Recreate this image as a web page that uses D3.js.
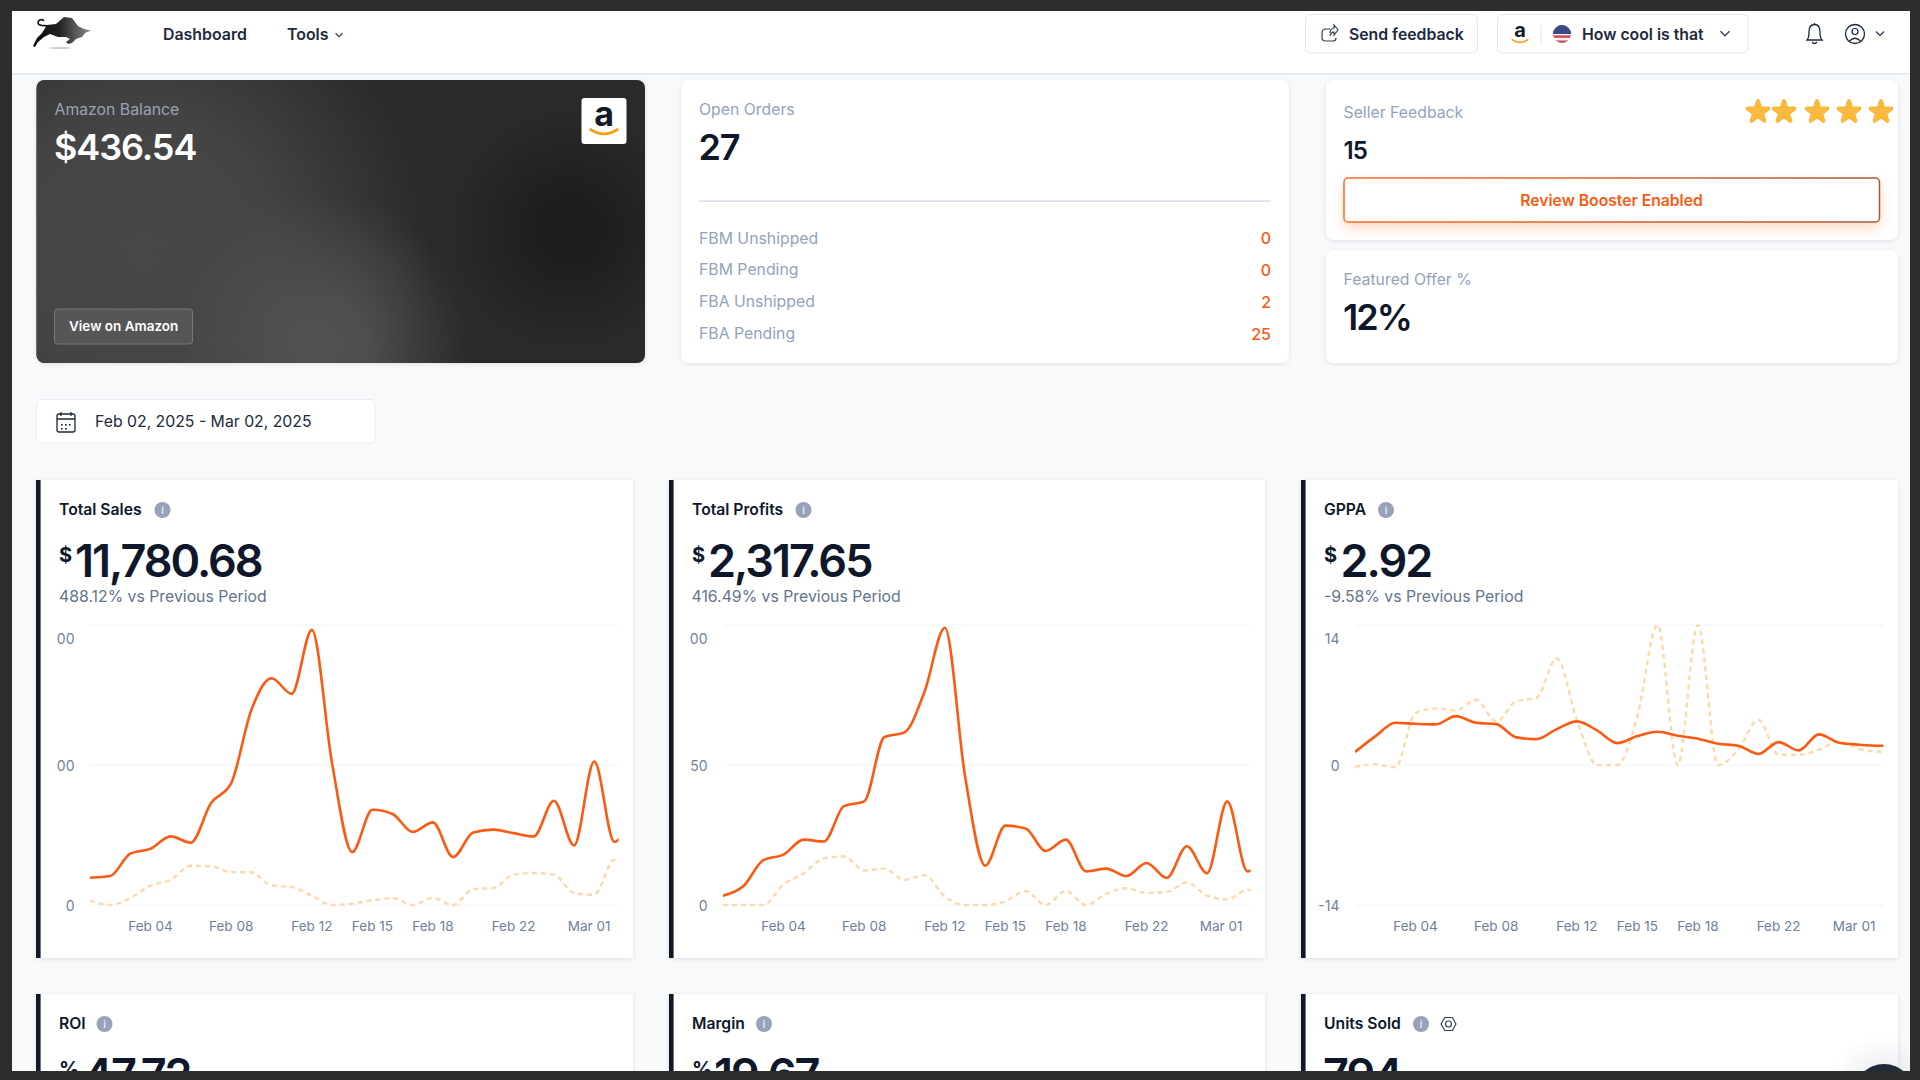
<!DOCTYPE html>
<html>
<head>
<meta charset="utf-8">
<title>Dashboard</title>
<script src="https://cdn.jsdelivr.net/npm/d3@7"></script>
<style>
  html, body { margin: 0; padding: 0; background: #2d2d2d; overflow: hidden; }
  svg { display: block; }
  text { font-family: Inter, "Noto Sans", sans-serif; }
</style>
</head>
<body>
<svg id="page" width="1920" height="1080"></svg>
<script>
// data
const tickIndex = [3, 7, 11, 14, 17, 21, 25];
const tickLabels = ['Feb 04', 'Feb 08', 'Feb 12', 'Feb 15', 'Feb 18', 'Feb 22', 'Mar 01'];

const salesCurrent = [117, 124, 220, 241, 294, 267, 437, 522, 836, 972, 905, 1179, 608, 227, 408, 390, 313, 354, 205, 311, 323, 308, 294, 447, 255, 615, 270, 440];
const salesPrevious = [19, 0, 30, 83, 108, 168, 166, 141, 140, 84, 77, 40, 0, 6, 20, 30, 0, 30, 0, 68, 73, 130, 137, 130, 51, 44, 194, 108];
const salesTicks = [0, 600, 1200];
const salesTickLabels = ['0', '00', '00'];

const profitsCurrent = [10, 20, 48, 54, 70, 68, 106, 111, 180, 185, 229, 297, 138, 42, 85, 82, 58, 70, 36, 39, 31, 45, 29, 63, 34, 111, 36, 57];
const profitsPrevious = [0, 0, 0, 22, 34, 50, 52, 37, 39, 27, 32, 9, 0, 0, 4, 15, 0, 15, 0, 12, 18, 13, 14, 24, 10, 6, 16, 16];
const profitsTicks = [0, 150, 300];
const profitsTickLabels = ['0', '50', '00'];

const gppaCurrent = [1.3, 2.86, 4.22, 4.12, 4.06, 4.89, 4.22, 4.09, 2.76, 2.59, 3.59, 4.36, 3.46, 2.19, 2.89, 3.33, 2.93, 2.63, 2.13, 1.93, 1.1, 2.29, 1.46, 3.06, 2.23, 2.03, 1.93, 1.93];
const gppaPrevious = [-0.2, 0.07, -0.23, 5.19, 5.65, 5.45, 6.52, 4.36, 6.38, 6.72, 10.67, 4.52, 0, 0, 4.86, 14, 0, 14, 0, 1.53, 4.52, 1.03, 1.03, 1.53, 2.36, 1.6, 1.33, 1.33];
const gppaTicks = [-14, 0, 14];
const gppaTickLabels = ['-14', '0', '14'];

const orderLabels = ['FBM Unshipped', 'FBM Pending', 'FBA Unshipped', 'FBA Pending'];
const orderValues = [0, 0, 2, 25];

const ORANGE = '#fb5a12';
const DASHED = '#fdd9a8';
const INK = '#0f172a';
const GREY = '#94a3b8';
const SLATE = '#64748b';

const svg = d3.select('#page');
const defs = svg.append('defs');

function label(parent, x, y, str, size, weight, fill, anchor) {
  return parent.append('text')
    .attr('x', x).attr('y', y - 0.5)
    .attr('dominant-baseline', 'central')
    .attr('text-anchor', anchor || 'start')
    .attr('font-size', size)
    .attr('font-weight', weight)
    .attr('fill', fill)
    .text(str);
}

function box(parent, x, y, w, h, r, fill, stroke) {
  return parent.append('rect')
    .attr('x', x).attr('y', y).attr('width', w).attr('height', h).attr('rx', r)
    .attr('fill', fill).attr('stroke', stroke || 'none');
}

const shadow = defs.append('filter').attr('id', 'shadow')
  .attr('x', '-5%').attr('y', '-5%').attr('width', '110%').attr('height', '112%');
shadow.append('feDropShadow').attr('dx', 0).attr('dy', 1).attr('stdDeviation', 2)
  .attr('flood-color', '#0f172a').attr('flood-opacity', 0.1);

const btnGlow = defs.append('filter').attr('id', 'btnGlow')
  .attr('x', '-5%').attr('y', '-30%').attr('width', '110%').attr('height', '180%');
btnGlow.append('feDropShadow').attr('dx', 0).attr('dy', 6).attr('stdDeviation', 6)
  .attr('flood-color', ORANGE).attr('flood-opacity', 0.22);

const clipScreen = defs.append('clipPath').attr('id', 'clipScreen');
clipScreen.append('rect').attr('x', 12).attr('y', 11).attr('width', 1898).attr('height', 1060);

const screen = svg.append('g').attr('clip-path', 'url(#clipScreen)');
box(screen, 12, 11, 1898, 1060, 0, '#f8f9fb');

// ---- navbar
box(screen, 12, 11, 1898, 62, 0, '#fff');
screen.append('rect').attr('x', 12).attr('y', 73).attr('width', 1898).attr('height', 1.6).attr('fill', '#e2e8f0');

function drawBull(g) {
  const grad = defs.append('linearGradient').attr('id', 'bullGrad');
  grad.append('stop').attr('offset', '0%').attr('stop-color', '#0c0c0c');
  grad.append('stop').attr('offset', '45%').attr('stop-color', '#222');
  grad.append('stop').attr('offset', '100%').attr('stop-color', '#8a8a8a');
  g.append('path')
    .attr('d', 'M33,46 L37,38 L42,33 L47,25 L56,24 L64,17 L72,18 L78,26 L84,29 L91,30.5 L85,33 L82,37 L76,39 L72,43 L68,44 L66,42 L70,39 L66,37 L58,37 L50,34 L44,37 L38,42 L35,47 Z')
    .attr('fill', 'url(#bullGrad)');
  g.append('path')
    .attr('d', 'M48,26 C45,25 39,27 38,23 C38,19 43,19 44,21')
    .attr('fill', 'none').attr('stroke', '#151515').attr('stroke-width', 1.6);
  g.append('ellipse').attr('cx', 60).attr('cy', 48).attr('rx', 11).attr('ry', 1)
    .attr('fill', '#ccc');
}
drawBull(screen);

label(screen, 163, 34.5, 'Dashboard', 15.9, 600, '#1e293b');
label(screen, 287, 34.5, 'Tools', 15.9, 600, '#1e293b');

function chevron(parent, cx, cy, s, color) {
  parent.append('path')
    .attr('d', `M${cx - s},${cy - s / 2} L${cx},${cy + s / 2} L${cx + s},${cy - s / 2}`)
    .attr('fill', 'none').attr('stroke', color || '#334155').attr('stroke-width', 1.3);
}
chevron(screen, 339, 35, 3.4);

box(screen, 1305.5, 14.5, 172, 38.5, 5, '#fff', '#e2e8f0');
screen.append('path')
  .attr('d', 'M1330,29 L1326,29 Q1322,29 1322,33 L1322,38 Q1322,41 1326,41 L1333,41 Q1336,41 1336,38 M1330,33 Q1330,29 1334,28 L1334,25 L1338,30 L1334,35 L1334,32 Q1331,32 1330,36')
  .attr('fill', 'none').attr('stroke', '#334155').attr('stroke-width', 1.2);
label(screen, 1349, 34.5, 'Send feedback', 15.8, 600, '#1e293b');

box(screen, 1497.5, 14.5, 250.5, 38.5, 5, '#fff', '#e2e8f0');

function amazonMark(parent, cx, cy, size) {
  label(parent, cx, cy - size * 0.13, 'a', size, 700, '#131a26', 'middle');
  parent.append('path')
    .attr('d', `M${cx - size * 0.42},${cy + size * 0.32} Q${cx},${cy + size * 0.62} ${cx + size * 0.42},${cy + size * 0.32}`)
    .attr('fill', 'none').attr('stroke', '#f59e0b').attr('stroke-width', size * 0.08);
}
amazonMark(screen, 1520, 33, 20);
screen.append('line').attr('x1', 1541).attr('x2', 1541).attr('y1', 25).attr('y2', 43).attr('stroke', '#e2e8f0').attr('stroke-width', 1.2);

const flagClip = defs.append('clipPath').attr('id', 'flagClip');
flagClip.append('circle').attr('cx', 1562).attr('cy', 34).attr('r', 9);
const flag = screen.append('g').attr('clip-path', 'url(#flagClip)');
d3.range(7).forEach(i => {
  flag.append('rect').attr('x', 1553).attr('y', 25 + i * 18 / 7).attr('width', 18).attr('height', 18 / 7 + 0.2)
    .attr('fill', i % 2 ? '#f3f4f6' : '#d6475a');
});
flag.append('rect').attr('x', 1553).attr('y', 25).attr('width', 18).attr('height', 9).attr('fill', '#3a4a86');

label(screen, 1582, 34.5, 'How cool is that', 15.8, 600, '#1e293b');
chevron(screen, 1725, 33.5, 4.5);

// bell + user
screen.append('path')
  .attr('d', 'M1807,40 Q1809,38 1809,32 Q1809,24.5 1814.5,24.5 Q1820,24.5 1820,32 Q1820,38 1822,40 Z M1812,42 Q1814.5,45 1817,42 M1814.5,24.5 L1814.5,23')
  .attr('fill', 'none').attr('stroke', '#1e293b').attr('stroke-width', 1.3);
screen.append('circle').attr('cx', 1855).attr('cy', 34).attr('r', 9.5).attr('fill', 'none').attr('stroke', '#1e293b').attr('stroke-width', 1.3);
screen.append('circle').attr('cx', 1855).attr('cy', 31.5).attr('r', 3).attr('fill', 'none').attr('stroke', '#1e293b').attr('stroke-width', 1.2);
screen.append('path').attr('d', 'M1849.5,41 Q1855,35.5 1860.5,41').attr('fill', 'none').attr('stroke', '#1e293b').attr('stroke-width', 1.2);
chevron(screen, 1880, 33.5, 4);

// ---- balance card
function softBlob(id, cx, cy, r, color, hold) {
  const grad = defs.append('radialGradient').attr('id', id)
    .attr('gradientUnits', 'userSpaceOnUse').attr('cx', cx).attr('cy', cy).attr('r', r);
  grad.append('stop').attr('offset', '0%').attr('stop-color', color).attr('stop-opacity', 1);
  grad.append('stop').attr('offset', `${hold}%`).attr('stop-color', color).attr('stop-opacity', 0.9);
  grad.append('stop').attr('offset', '100%').attr('stop-color', color).attr('stop-opacity', 0);
}
softBlob('balanceWide', 140, 250, 290, '#474747', 45);
softBlob('balanceGlow', 320, 345, 150, '#515151', 30);
softBlob('balanceDark', 570, 230, 120, '#1d1d1d', 30);

box(screen, 36.5, 80, 608.5, 283, 8, '#2b2b2b').attr('filter', 'url(#shadow)');
box(screen, 36.5, 80, 608.5, 283, 8, 'url(#balanceWide)');
box(screen, 36.5, 80, 608.5, 283, 8, 'url(#balanceGlow)');
box(screen, 36.5, 80, 608.5, 283, 8, 'url(#balanceDark)');
label(screen, 54.5, 110, 'Amazon Balance', 15.8, 400, '#9aa3b5');
label(screen, 54, 147, '$436.54', 36, 600, '#fff').attr('letter-spacing', -1.1);
box(screen, 581.5, 98, 45, 46, 3, '#fff');
amazonMark(screen, 604, 118, 34);
box(screen, 54.5, 309, 138, 35, 3, '#565656', '#787878');
label(screen, 69, 326.5, 'View on Amazon', 13.5, 600, '#fff');

// ---- open orders card
box(screen, 681, 80, 608, 283, 8, '#fff').attr('filter', 'url(#shadow)');
label(screen, 699, 110, 'Open Orders', 15.8, 400, GREY);
label(screen, 698.5, 147, '27', 36, 600, INK).attr('letter-spacing', -1.1);
screen.append('rect').attr('x', 699).attr('y', 200.5).attr('width', 572).attr('height', 1.2).attr('fill', '#cbd5e1');
const rowScale = d3.scalePoint().domain(orderLabels).range([238.5, 334]);
orderLabels.forEach((name, i) => {
  label(screen, 699, rowScale(name), name, 15.8, 400, GREY);
  label(screen, 1271, rowScale(name), orderValues[i], 16, 500, ORANGE, 'end');
});

// ---- seller feedback card
box(screen, 1326, 80, 572, 160, 8, '#fff').attr('filter', 'url(#shadow)');
label(screen, 1343.5, 112.5, 'Seller Feedback', 15.8, 400, GREY);
const starPath = d3.symbol().type(d3.symbolStar).size(135)();
const starGrad = defs.append('linearGradient').attr('id', 'starGrad').attr('x1', 0).attr('x2', 0).attr('y1', 0).attr('y2', 1);
starGrad.append('stop').attr('offset', '0%').attr('stop-color', '#fdc344');
starGrad.append('stop').attr('offset', '100%').attr('stop-color', '#f6b23c');
[1758, 1784, 1817, 1849, 1881].forEach(cx => {
  screen.append('path').attr('d', starPath).attr('transform', `translate(${cx},112)`)
    .attr('fill', 'url(#starGrad)').attr('stroke', '#f9b93f').attr('stroke-width', 4).attr('stroke-linejoin', 'round');
});
label(screen, 1343.5, 150.5, '15', 24, 600, INK).attr('letter-spacing', -0.8);
const btnStroke = defs.append('linearGradient').attr('id', 'btnStroke');
btnStroke.append('stop').attr('offset', '0%').attr('stop-color', '#fb6a2a');
btnStroke.append('stop').attr('offset', '100%').attr('stop-color', '#a85a38');
box(screen, 1344, 178, 535.5, 44, 4, '#fff', 'url(#btnStroke)').attr('stroke-width', 1.5).attr('filter', 'url(#btnGlow)');
label(screen, 1611.5, 200.5, 'Review Booster Enabled', 15.7, 600, ORANGE, 'middle');

box(screen, 1326, 250, 572, 113, 8, '#fff').attr('filter', 'url(#shadow)');
label(screen, 1343.5, 279.5, 'Featured Offer %', 15.8, 400, GREY);
label(screen, 1343, 317, '12%', 36, 600, INK).attr('letter-spacing', -1.9);

// ---- date range
box(screen, 36.5, 399.5, 338.5, 43.5, 5, '#fff', '#e8ecf2');
const cal = screen.append('g').attr('fill', 'none').attr('stroke', '#1e293b').attr('stroke-width', 1.3);
cal.append('rect').attr('x', 57).attr('y', 414).attr('width', 18).attr('height', 18).attr('rx', 2);
cal.append('path').attr('d', 'M57,419 L75,419 M61,412 L61,416 M71,412 L71,416');
[[61, 424], [65, 424], [69, 424], [61, 428], [65, 428]].forEach(p => {
  screen.append('rect').attr('x', p[0]).attr('y', p[1]).attr('width', 1.6).attr('height', 1.6).attr('fill', '#1e293b');
});
label(screen, 95, 421.5, 'Feb 02, 2025 - Mar 02, 2025', 15.8, 400, '#1e293b');

// ---- metric cards
function infoIcon(parent, cx, cy) {
  parent.append('circle').attr('cx', cx).attr('cy', cy).attr('r', 8).attr('fill', '#98a2b8');
  label(parent, cx, cy + 0.5, 'i', 10, 600, '#e8ecf4', 'middle');
}

function metricCard(opts) {
  const { left, right, top, title, iconX, unit, value, valueX } = opts;
  const g = screen.append('g');
  box(g, left, top, right - left, 478, 0, '#fff').attr('filter', 'url(#shadow)');
  g.append('rect').attr('x', left).attr('y', top).attr('width', 4.6).attr('height', 478).attr('fill', '#111827');
  label(g, left + 23, top + 30, title, 15.7, 600, INK);
  infoIcon(g, iconX, top + 30);
  label(g, left + 23, top + 75, unit, 20, 700, INK);
  label(g, valueX, top + 81, value, 45, 600, INK).attr('letter-spacing', -2);
  return g;
}

function lineChart(g, opts) {
  const { left, right, top, ticks, tickText, domain, current, previous, id } = opts;
  const x0 = left + 54;
  const x1 = right - 14.5;
  const yTop = top + 145;
  const yBottom = top + 425;
  const step = 20.17;
  const x = d3.scaleLinear().domain([0, (x1 - x0) / step]).range([x0, x1]);
  const y = d3.scaleLinear().domain(domain).range([yBottom, yTop]);

  const grid = g.append('g');
  ticks.forEach((t, i) => {
    grid.append('line')
      .attr('x1', x0).attr('x2', x1).attr('y1', y(t)).attr('y2', y(t))
      .attr('stroke', '#f0f2f6').attr('stroke-width', 1);
    // the top label sits a bit under its gridline in the original
    const dy = i === ticks.length - 1 ? 14 : 0.8;
    label(g, left + 38.5, y(t) + dy, tickText[i], 14, 400, '#718096', 'end');
  });

  tickIndex.forEach((idx, i) => {
    const t = label(g, x(idx), yBottom + 21.5, tickLabels[i], 13.5, 400, '#718096', 'middle');
    const half = t.node().getComputedTextLength() / 2;
    if (x(idx) + half > x1 - 8) t.attr('x', x1 - 8 - half);
  });

  const clip = defs.append('clipPath').attr('id', `clip-${id}`);
  clip.append('rect').attr('x', x0).attr('y', yTop - 4).attr('width', x1 - x0).attr('height', yBottom - yTop + 8);

  const line = d3.line().x((d, i) => x(i)).y(d => y(d)).curve(d3.curveMonotoneX);
  const plot = g.append('g').attr('clip-path', `url(#clip-${id})`);
  plot.append('path').attr('d', line(previous))
    .attr('fill', 'none').attr('stroke', DASHED).attr('stroke-width', 2.4).attr('stroke-dasharray', '5 4');
  plot.append('path').attr('d', line(current))
    .attr('fill', 'none').attr('stroke', ORANGE).attr('stroke-width', 2.6);
}

const cardTop = 480;

const salesCard = metricCard({ left: 36, right: 633, top: cardTop, title: 'Total Sales', iconX: 162.5, unit: '$', value: '11,780.68', valueX: 75 });
label(salesCard, 59, 596.5, '488.12% vs Previous Period', 15.8, 400, SLATE);
lineChart(salesCard, { left: 36, right: 633, top: cardTop, ticks: salesTicks, tickText: salesTickLabels, domain: [0, 1200], current: salesCurrent, previous: salesPrevious, id: 'sales' });

const profitsCard = metricCard({ left: 669, right: 1265, top: cardTop, title: 'Total Profits', iconX: 803.5, unit: '$', value: '2,317.65', valueX: 708 });
label(profitsCard, 691.5, 596.5, '416.49% vs Previous Period', 15.8, 400, SLATE);
lineChart(profitsCard, { left: 669, right: 1265, top: cardTop, ticks: profitsTicks, tickText: profitsTickLabels, domain: [0, 300], current: profitsCurrent, previous: profitsPrevious, id: 'profits' });

const gppaCard = metricCard({ left: 1301, right: 1898, top: cardTop, title: 'GPPA', iconX: 1386, unit: '$', value: '2.92', valueX: 1340.5 });
label(gppaCard, 1324, 596.5, '-9.58% vs Previous Period', 15.8, 400, SLATE);
lineChart(gppaCard, { left: 1301, right: 1898, top: cardTop, ticks: gppaTicks, tickText: gppaTickLabels, domain: [-14, 14], current: gppaCurrent, previous: gppaPrevious, id: 'gppa' });

// ---- second row, cut off by the screen edge
const lowerTop = 994;
metricCard({ left: 36, right: 633, top: lowerTop, title: 'ROI', iconX: 104.5, unit: '%', value: '47.72', valueX: 83 });
metricCard({ left: 669, right: 1265, top: lowerTop, title: 'Margin', iconX: 764, unit: '%', value: '19.67', valueX: 714 });
const unitsCard = metricCard({ left: 1301, right: 1898, top: lowerTop, title: 'Units Sold', iconX: 1421, unit: '', value: '794', valueX: 1323 });
unitsCard.append('circle').attr('cx', 1448.5).attr('cy', 1024).attr('r', 3).attr('fill', 'none').attr('stroke', '#334155').attr('stroke-width', 1.2);
unitsCard.append('path').attr('d', d3.line().curve(d3.curveLinearClosed)(d3.range(6).map(i => [
  1448.5 + 7.5 * Math.cos(i * Math.PI / 3), 1024 + 7.5 * Math.sin(i * Math.PI / 3)
]))).attr('fill', 'none').attr('stroke', '#334155').attr('stroke-width', 1.2).attr('stroke-linejoin', 'round');

// chat bubble peeking out at the bottom right corner
const chatGlow = defs.append('radialGradient').attr('id', 'chatGlow');
chatGlow.append('stop').attr('offset', '40%').attr('stop-color', '#94a3b8').attr('stop-opacity', 0.16);
chatGlow.append('stop').attr('offset', '100%').attr('stop-color', '#94a3b8').attr('stop-opacity', 0);
screen.append('circle').attr('cx', 1884).attr('cy', 1090).attr('r', 55).attr('fill', 'url(#chatGlow)');
screen.append('circle').attr('cx', 1884).attr('cy', 1094).attr('r', 30).attr('fill', '#1f2937');
</script>
</body>
</html>
